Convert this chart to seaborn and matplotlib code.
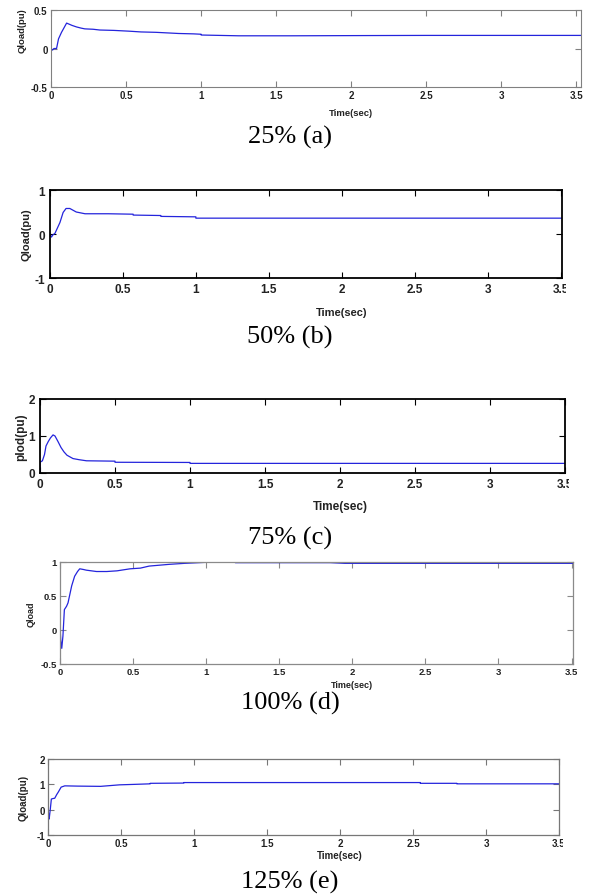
import matplotlib
matplotlib.use("Agg")
import pandas as pd
import seaborn as sns
from matplotlib import pyplot as plt
from matplotlib import font_manager
from matplotlib.transforms import Bbox, TransformedBbox

# Reactive load Q (pu) against time (sec) for five loading levels

# 25% (a)
t_a = [0, 0.01, 0.02, 0.037, 0.05, 0.07, 0.104, 0.14, 0.17, 0.2, 0.225, 0.28, 0.325,
       0.42, 0.52, 0.6, 0.7, 0.85, 0.95, 1.0, 1.0, 1.25, 1.6, 2.1, 2.5, 3.0, 3.55]
q_a = [0, -0.02, 0.0, 0.0, 0.125, 0.21, 0.33, 0.30, 0.28, 0.265, 0.255, 0.25, 0.24,
       0.235, 0.225, 0.215, 0.21, 0.195, 0.19, 0.185, 0.175, 0.165, 0.165, 0.168, 0.17, 0.17, 0.17]

# 50% (b)
t_b = [0, 0.01, 0.02, 0.034, 0.068, 0.09, 0.11, 0.136, 0.18, 0.24, 0.4, 0.57, 0.57,
       0.76, 0.76, 1.0, 1.0, 2.0, 3.52]
q_b = [0.0, -0.07, -0.02, 0.015, 0.26, 0.49, 0.58, 0.58, 0.5, 0.46, 0.46, 0.45, 0.43,
       0.42, 0.40, 0.39, 0.36, 0.36, 0.36]

# 75% (c)
t_c = [0, 0.0, 0.016, 0.03, 0.04, 0.055, 0.07, 0.087, 0.1, 0.12, 0.14, 0.16, 0.18,
       0.22, 0.26, 0.31, 0.5, 0.5, 1.0, 1.0, 3.52]
q_c = [0.05, 0.29, 0.33, 0.5, 0.73, 0.85, 0.95, 1.03, 1.0, 0.85, 0.69, 0.57, 0.48,
       0.39, 0.36, 0.33, 0.32, 0.29, 0.285, 0.26, 0.26]

# 100% (d)
t_d = [0, 0.005, 0.012, 0.02, 0.03, 0.045, 0.055, 0.07, 0.08, 0.1, 0.12, 0.135, 0.16,
       0.18, 0.25, 0.32, 0.39, 0.48, 0.55, 0.61, 0.75, 0.85, 1.0, 1.2, 1.2, 1.85, 1.95,
       2.0, 3.52]
q_d = [0.06, -0.15, -0.27, -0.09, 0.30, 0.35, 0.40, 0.55, 0.65, 0.79, 0.86, 0.90, 0.89,
       0.88, 0.86, 0.86, 0.87, 0.90, 0.91, 0.94, 0.966, 0.98, 0.995, 1.0, 0.99, 0.99, 0.98,
       0.98, 0.98]

# 125% (e)
t_e = [0, 0.004, 0.008, 0.016, 0.023, 0.035, 0.046, 0.06, 0.07, 0.09, 0.115, 0.2, 0.36,
       0.49, 0.6, 0.7, 0.7, 0.93, 0.93, 2.55, 2.55, 2.8, 2.8, 3.52]
q_e = [0.1, -0.2, -0.37, 0.03, 0.42, 0.44, 0.45, 0.6, 0.69, 0.89, 0.94, 0.93, 0.92,
       0.98, 1.0, 1.02, 1.04, 1.05, 1.07, 1.07, 1.04, 1.04, 1.02, 1.02]

captions = ["25% (a)", "50% (b)", "75% (c)", "100% (d)", "125% (e)"]
ylabels = ["Qload(pu)", "Qload(pu)", "plod(pu)", "Qload", "Qload(pu)"]
yticks = [[-0.5, 0, 0.5], [-1, 0, 1], [0, 1, 2], [-0.5, 0, 0.5, 1], [-1, 0, 1, 2]]
ytick_labels = [["-0.5", "0", "0.5"], ["-1", "0", "1"], ["0", "1", "2"],
                ["-0.5", "0", "0.5", "1"], ["-1", "0", "1", "2"]]
xticks = [0, 0.5, 1, 1.5, 2, 2.5, 3, 3.5]
xtick_labels = ["0", "0.5", "1", "1.5", "2", "2.5", "3", "3.5"]
xmax = [3.53, 3.51, 3.50, 3.51, 3.50]

W, H = 589, 895

# pixel boxes of each axes: left, right, top, bottom
boxes = [(51, 581, 11, 88), (50, 562, 191, 279), (40, 565, 400, 474),
         (60, 573, 563, 665), (48, 559, 760, 836)]
caption_y = [137, 337, 538, 703, 882]
xlabel_y = [113, 313, 507, 686, 856]
ylabel_x = [22, 27, 21, 31, 24]
ylabel_pos = [0.74, 0.5, 0.5, 0.5, 0.5]

sns.set_theme(style="white")
installed = {f.name for f in font_manager.fontManager.ttflist}
narrow = "Liberation Sans Narrow" if "Liberation Sans Narrow" in installed else "Liberation Sans"
plt.rcParams["font.family"] = ["Liberation Sans", "DejaVu Sans"]

# per panel look: (spine colour, spine width, tick font, tick size, label size, tick pad)
looks = [
    ("#808080", 0.8, "Liberation Sans", 7.0, 6.8, 2.5),
    ("#000000", 1.3, narrow, 8.5, 8.0, 3.5),
    ("#000000", 1.3, narrow, 8.5, 8.5, 3.5),
    ("#8a8a8a", 0.9, "Liberation Sans", 6.8, 6.5, 2.0),
    ("#777777", 0.9, "Liberation Sans", 7.0, 7.0, 2.0),
]

series = [(t_a, q_a), (t_b, q_b), (t_c, q_c), (t_d, q_d), (t_e, q_e)]

fig = plt.figure(figsize=(W / 100, H / 100), dpi=100)

for i, (t, q) in enumerate(series):
    left, right, top, bottom = boxes[i]
    ax = fig.add_axes([left / W, 1 - bottom / H, (right - left) / W, (bottom - top) / H])
    spine_col, spine_w, tick_font, tick_size, lab_size, pad = looks[i]

    df = pd.DataFrame({"Time": t, "Q": q})
    sns.lineplot(data=df, x="Time", y="Q", ax=ax, color="#2424dc", linewidth=0.9,
                 estimator=None, sort=False)

    ax.set_xlim(0, xmax[i])
    ax.set_ylim(yticks[i][0], yticks[i][-1])
    ax.set_xticks(xticks)
    ax.set_xticklabels(xtick_labels)
    ax.set_yticks(yticks[i])
    ax.set_yticklabels(ytick_labels[i])
    ax.tick_params(direction="in", length=4, width=0.8, color=spine_col,
                   top=True, bottom=True, left=True, right=True,
                   labelsize=tick_size, labelcolor="#222222", pad=pad)
    for lab in ax.get_xticklabels() + ax.get_yticklabels():
        lab.set_fontfamily(tick_font)
        lab.set_fontweight("bold")
    for sp in ax.spines.values():
        sp.set_color(spine_col)
        sp.set_linewidth(spine_w)
    ax.grid(False)

    # the last tick label is cut by the picture edge right of the frame
    clip = TransformedBbox(Bbox([[0, 0], [(right + 4) / W, 1]]), fig.transFigure)
    last = ax.get_xticklabels()[-1]
    last.set_clip_box(clip)
    last.set_clip_on(True)

    ax.set_xlabel("Time(sec)", fontsize=lab_size, fontfamily=tick_font,
                  fontweight="bold", color="#222222")
    ax.xaxis.set_label_coords(2 / xmax[i], (bottom - xlabel_y[i]) / (bottom - top))
    ax.xaxis.label.set_verticalalignment("center")

    ax.set_ylabel(ylabels[i], fontsize=lab_size, fontfamily=tick_font, fontweight="bold",
                  color="#222222")
    ax.yaxis.set_label_coords((ylabel_x[i] - left) / (right - left), ylabel_pos[i])
    ax.yaxis.label.set_verticalalignment("center")

    fig.text(290 / W, 1 - caption_y[i] / H, captions[i], ha="center", va="center",
             fontsize=19, fontfamily="Liberation Serif", color="black")

fig.savefig("out.png", dpi=100)
